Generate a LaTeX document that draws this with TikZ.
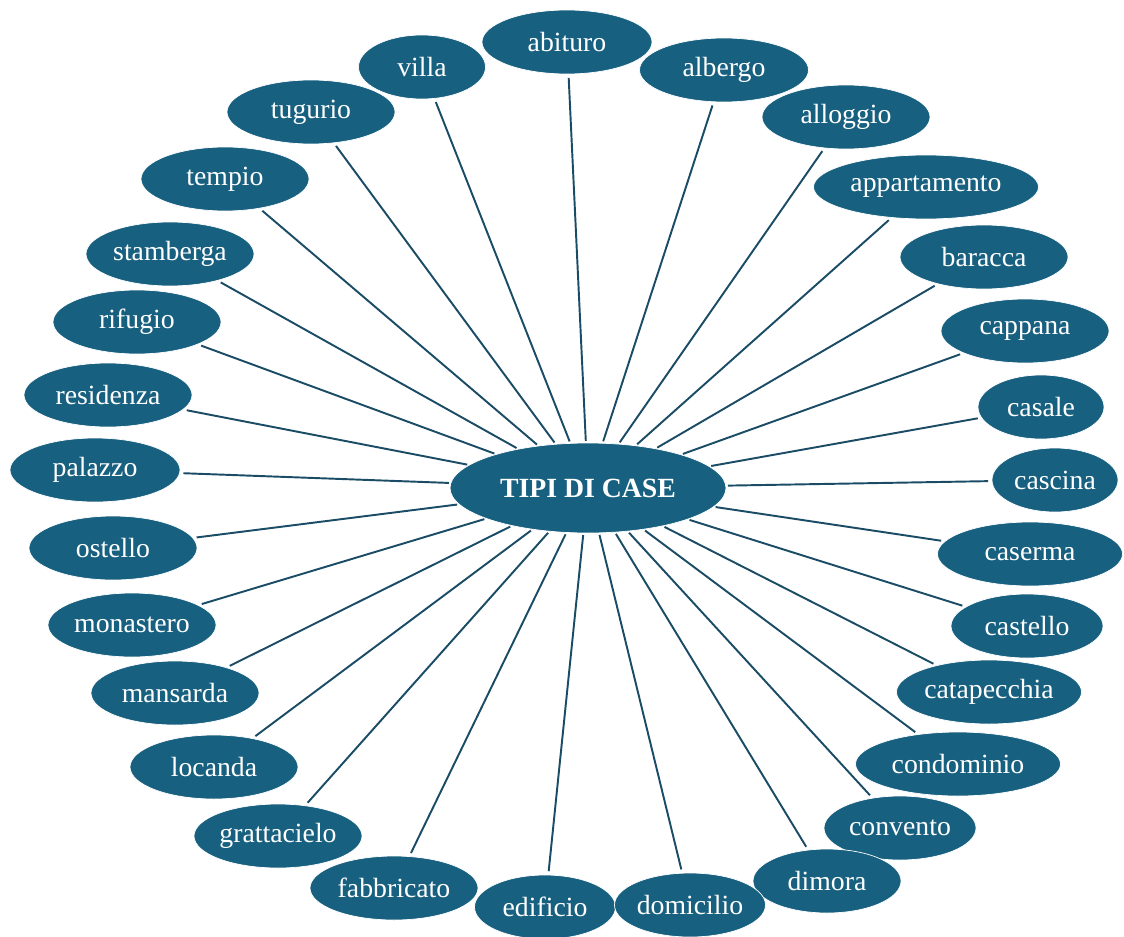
\documentclass[tikz,border=0pt]{standalone}
\usepackage{fontspec}
\setmainfont{Liberation Serif}
\usetikzlibrary{shapes.geometric}
\definecolor{lapis}{RGB}{24, 96, 128}
\definecolor{deepsea}{RGB}{26, 76, 102}

\begin{document}
\begin{tikzpicture}[x=0.02cm, y=-0.02cm,
    leaf/.style={ellipse, fill=lapis, draw=white, thin, text=white, inner sep=0pt,
                 minimum height=1.28cm, font=\fontsize{15.8}{18}\selectfont},
    spoke/.style={deepsea, line width=1.1pt, shorten <=1pt, shorten >=2pt}]
            % Frame to ensure alignment:
            \useasboundingbox (0, 0) rectangle (1124, 936);
            % Centre
            \node[leaf, minimum width=5.52cm, minimum height=1.8cm, font=\fontsize{15.8}{18}\selectfont\bfseries]
                 (tipi) at (588, 488) {TIPI DI CASE};
            % Leaves: name / x / y / width
            \foreach \name/\x/\y/\w in {
                 abituro/567/42/170, villa/422/67/127, albergo/724/70/169,
                 tugurio/311/112/168, alloggio/846/117/168, tempio/225/179/168,
                 appartamento/926/187/225, stamberga/170/254/168, baracca/984/257/168,
                 rifugio/137/322/168, cappana/1025/331/168, residenza/108/395/168,
                 casale/1041/407/126, palazzo/95/470/170, cascina/1055/480/126,
                 ostello/113/548/168, caserma/1030/554/185, monastero/132/625/168,
                 castello/1027/626/152, mansarda/175/693/168, catapecchia/989/692/185,
                 locanda/214/767/168, condominio/958/764/205, grattacielo/278/836/168,
                 convento/900/828/152, fabbricato/394/888/168, dimora/827/881/148,
                 edificio/545/907/141, domicilio/690/905/151}
            {
                 \node[leaf, minimum width=\w*0.02cm] (\name) at (\x, \y) {\name};
                 \draw[spoke] (tipi) -- (\name);
            }
\end{tikzpicture}
\end{document}
